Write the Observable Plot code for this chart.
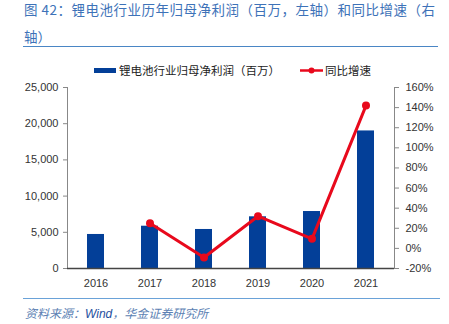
<!DOCTYPE html>
<html><head><meta charset="utf-8">
<script src="https://cdn.jsdelivr.net/npm/d3@7"></script>
<script src="https://cdn.jsdelivr.net/npm/@observablehq/plot@0.6"></script>
<style>
body{margin:0;width:449px;height:324px;overflow:hidden;background:#fff;font-family:"Noto Sans CJK SC","Liberation Sans",sans-serif;position:relative}
#title{position:absolute;left:0;top:0}
#tline{position:absolute;left:23px;top:46px;width:415px;height:0;border-top:1.5px solid #4a86c5}
#legend{position:absolute;top:61px;left:0;width:449px;height:18px;font-size:11.5px;color:#222}
#chart{position:absolute;left:0;top:78px}
#fline{position:absolute;left:23px;top:298px;width:417px;border-top:1.5px solid #6aa2d8}
#foot{position:absolute;left:25px;top:304px;font-size:12px;font-style:italic;color:#5c7fb3}
#foot b{font-weight:normal;color:#1f4f9e;font-family:"Liberation Sans",sans-serif}
</style></head><body>
<div id="title"></div>
<div id="tline"></div>
<div id="legend"></div>
<div id="chart"></div>
<div id="fline"></div>
<div id="foot">资料来源：<b>Wind</b>，华金证券研究所</div>
<script>
const titleLines = ["图 42：锂电池行业历年归母净利润（百万，左轴）和同比增速（右", "轴）"];
const years = ["2016","2017","2018","2019","2020","2021"];
const profit = [4700, 5840, 5390, 7140, 7870, 19000];
const growthYears = ["2017","2018","2019","2020","2021"];
const growth = [25, -9, 32, 9.5, 142];
const leftTicks = [0, 5000, 10000, 15000, 20000, 25000];
const rightTicks = [-20, 0, 20, 40, 60, 80, 100, 120, 140, 160];
const seriesNames = ["锂电池行业归母净利润（百万）", "同比增速"];
const barColor = "#033f98";
const lineColor = "#e8091c";

const yMax = 25000, pMin = -20, pMax = 160;
const toY = p => (p - pMin) / (pMax - pMin) * yMax;
const fromY = v => v / yMax * (pMax - pMin) + pMin;

const bars = years.map((y, i) => ({year: y, value: profit[i]}));
const pts = growthYears.map((y, i) => ({year: y, pct: growth[i], yv: toY(growth[i])}));

// title
const ts = d3.select("#title").append("svg").attr("width", 449).attr("height", 46);
ts.append("text").attr("x", 24).attr("y", 15).attr("font-size", 13.5).attr("fill", "#3d72b8")
  .attr("textLength", 411).attr("lengthAdjust", "spacing").text(titleLines[0]);
ts.append("text").attr("x", 24).attr("y", 42).attr("font-size", 13.5).attr("fill", "#3d72b8")
  .text(titleLines[1]);

const chart = Plot.plot({
  width: 449, height: 220,
  marginLeft: 67, marginRight: 55, marginTop: 9, marginBottom: 30,
  style: {fontFamily: "'Liberation Sans', Arial, sans-serif", fontSize: "11px", color: "#333", background: "transparent"},
  x: {domain: years, paddingInner: 0.68, paddingOuter: 0.34, label: null},
  y: {domain: [0, yMax], label: null},
  marks: [
    Plot.barY(bars, {x: "year", y: "value", fill: barColor}),
    Plot.frame({anchor: "left", stroke: "#888"}),
    Plot.frame({anchor: "right", stroke: "#888"}),
    Plot.ruleY([0], {stroke: "#444", strokeWidth: 1.3}),
    Plot.axisY({anchor: "left", ticks: leftTicks, tickFormat: d3.format(","), tickSize: 4, tickPadding: 5, stroke: "#888", label: null}),
    Plot.axisY({anchor: "right", ticks: rightTicks.map(toY), tickFormat: d => Math.round(fromY(d)) + "%", tickSize: 4, tickPadding: 7, stroke: "#888", label: null, textAnchor: "start"}),
    Plot.axisX({tickSize: 0, tickPadding: 11, label: null}),
    Plot.line(pts, {x: "year", y: "yv", stroke: lineColor, strokeWidth: 3}),
    Plot.dot(pts, {x: "year", y: "yv", fill: lineColor, r: 4})
  ]
});
document.getElementById("chart").appendChild(chart);

// legend
const lg = d3.select("#legend").append("svg").attr("width", 449).attr("height", 18);
lg.append("rect").attr("x", 94).attr("y", 7).attr("width", 22).attr("height", 5).attr("fill", barColor);
lg.append("text").attr("x", 119).attr("y", 14).attr("font-size", 11.5).attr("fill", "#222").text(seriesNames[0]);
lg.append("line").attr("x1", 300).attr("x2", 323).attr("y1", 9.5).attr("y2", 9.5).attr("stroke", lineColor).attr("stroke-width", 2.5);
lg.append("circle").attr("cx", 311.5).attr("cy", 9.5).attr("r", 3).attr("fill", lineColor);
lg.append("text").attr("x", 325).attr("y", 14).attr("font-size", 11.5).attr("fill", "#222").text(seriesNames[1]);
</script>
</body></html>
